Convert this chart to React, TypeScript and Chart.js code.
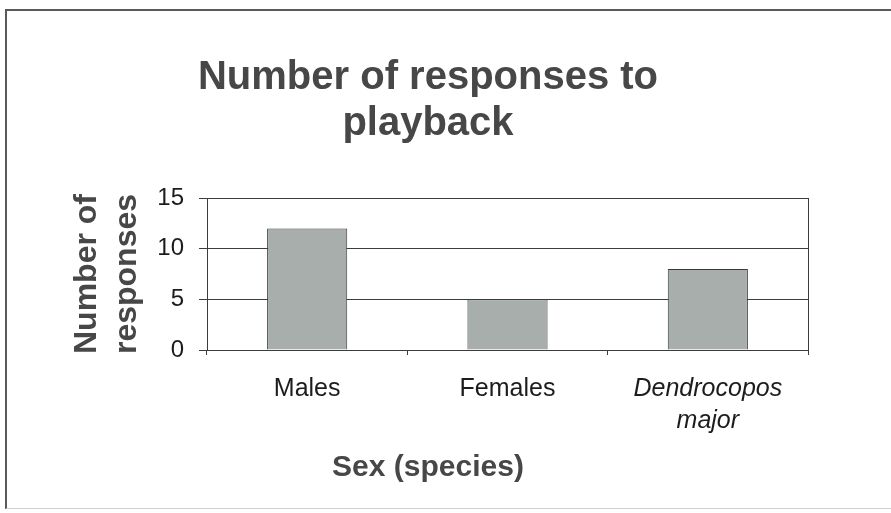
import React, { useEffect, useRef } from "react";
import { Chart, registerables } from "chart.js";

Chart.register(...registerables);

const categories: (string | string[])[] = ["Males", "Females", ["Dendrocopos", "major"]];
const italicCategory: boolean[] = [false, false, true];
const responses: number[] = [12, 5, 8];
const yMin = 0;
const yMax = 15;
const yStep = 5;
const chartTitle: string[] = ["Number of responses to", "playback"];
const yAxisTitle: string[] = ["Number of", "responses"];
const xAxisTitle = "Sex (species)";

const FONT = "'Liberation Sans', Arial, Helvetica, sans-serif";
const LINE = "#3c3c3c";
const TITLE_COLOR = "#474747";
const TICK_COLOR = "#1c1c1c";

const rightFrame = {
  id: "rightFrame",
  afterDatasetsDraw(chart: any) {
    const { ctx, chartArea } = chart;
    ctx.save();
    ctx.strokeStyle = LINE;
    ctx.lineWidth = 1;
    ctx.beginPath();
    ctx.moveTo(Math.round(chartArea.right) + 0.5, chartArea.top);
    ctx.lineTo(Math.round(chartArea.right) + 0.5, chartArea.bottom);
    ctx.stroke();
    ctx.restore();
  },
};

export default function App() {
  const canvasRef = useRef<HTMLCanvasElement | null>(null);

  useEffect(() => {
    if (!canvasRef.current) return;
    const chart = new Chart(canvasRef.current, {
      type: "bar",
      data: {
        labels: categories,
        datasets: [
          {
            data: responses,
            backgroundColor: "#a8aeab",
            borderColor: "#3a3a3a",
            borderWidth: 1,
            barPercentage: 0.4,
            categoryPercentage: 1,
          },
        ],
      },
      options: {
        responsive: false,
        animation: false,
        layout: { padding: { left: 48, right: 83, top: 0, bottom: 0 } },
        plugins: {
          legend: { display: false },
          tooltip: { enabled: false },
          title: {
            display: true,
            text: chartTitle,
            color: TITLE_COLOR,
            font: { family: FONT, size: 40, weight: "bold", lineHeight: 1.15 },
            padding: { top: 55, bottom: 51 },
          },
          subtitle: {
            display: true,
            position: "bottom",
            text: xAxisTitle,
            color: TITLE_COLOR,
            font: { family: FONT, size: 30, weight: "bold", lineHeight: 1.2 },
            padding: { top: 13, bottom: 27 },
          },
        },
        scales: {
          x: {
            grid: {
              display: true,
              drawOnChartArea: false,
              tickLength: 5,
              color: LINE,
              offset: true,
            },
            border: { display: true, color: LINE },
            ticks: {
              padding: 18,
              color: TICK_COLOR,
              maxRotation: 0,
              autoSkip: false,
              font: (ctx: any) => ({
                family: FONT,
                size: 25,
                style: italicCategory[ctx.index] ? "italic" : "normal",
                lineHeight: 1.28,
              }),
            },
            afterFit: (scale: any) => {
              scale.height = 87;
            },
          },
          y: {
            min: yMin,
            max: yMax,
            ticks: {
              stepSize: yStep,
              padding: 15,
              color: TICK_COLOR,
              font: { family: FONT, size: 24 },
            },
            grid: { color: LINE, tickLength: 8 },
            border: { display: true, color: LINE },
            title: {
              display: true,
              text: yAxisTitle,
              color: TITLE_COLOR,
              font: { family: FONT, size: 32, weight: "bold", lineHeight: 1.25 },
              padding: { top: 19, bottom: 10 },
            },
            afterFit: (scale: any) => {
              scale.width = 159;
            },
          },
        },
      },
      plugins: [rightFrame],
    } as any);
    return () => chart.destroy();
  }, []);

  return (
    <div style={{ position: "absolute", left: 0, top: 0, width: 891, height: 513, background: "#ffffff", overflow: "hidden" }}>
      <div
        style={{
          position: "absolute",
          left: 5,
          top: 9,
          width: 895,
          height: 497,
          borderLeft: "2px solid #5a5a5a",
          borderTop: "2px solid #5a5a5a",
          borderBottom: "1px solid #cfcfcf",
        }}
      />
      <canvas ref={canvasRef} width={891} height={513} style={{ position: "absolute", left: 0, top: 0 }} />
    </div>
  );
}
